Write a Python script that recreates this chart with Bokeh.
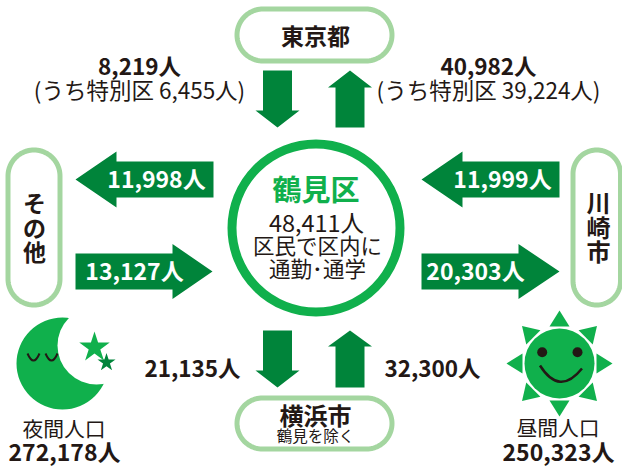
import numpy as np
from bokeh.plotting import figure
from bokeh.models import Range1d
from bokeh.core.properties import value
from bokeh.embed import file_html
from bokeh.resources import INLINE

FONT = "Noto Sans CJK JP"
INK = "#231815"
GREEN = "#10b04c"
DARK = "#00843a"
PALE = "#a4d6a0"

# --- chart content ---
centre_title = "鶴見区"
centre_lines = ["48,411人", "区民で区内に", "通勤･通学"]
tokyo_out, tokyo_in = "8,219人", "40,982人"
tokyo_out_sub, tokyo_in_sub = "(うち特別区 6,455人)", "(うち特別区 39,224人)"
other_out, other_in = "11,998人", "13,127人"
kawasaki_out, kawasaki_in = "11,999人", "20,303人"
yokohama_out, yokohama_in = "21,135人", "32,300人"
night_label, night_value = "夜間人口", "272,178人"
day_label, day_value = "昼間人口", "250,323人"

p = figure(width=622, height=466, output_backend="svg", toolbar_location=None,
           x_range=Range1d(0, 622), y_range=Range1d(466, 0),
           x_axis_type=None, y_axis_type=None, min_border=0,
           outline_line_color=None, background_fill_color="white",
           border_fill_color="white", styles={"position": "absolute", "left": "0", "top": "0"})
p.grid.visible = False


def txt(x, y, s, size, bold=False, color=INK):
    p.text([x], [y - 1], text=[s], text_font=value(FONT), text_font_size=f"{size}px",
           text_font_style="bold" if bold else "normal", text_color=color,
           text_align="center", text_baseline="middle")


def pill(x0, y0, x1, y1):
    r = min(x1 - x0, y1 - y0) / 2
    t = np.linspace(0, np.pi / 2, 24)
    xs = np.r_[x1 - r + r * np.sin(t), x1 - r + r * np.cos(t), x0 + r - r * np.sin(t), x0 + r - r * np.cos(t)]
    ys = np.r_[y0 + r - r * np.cos(t), y1 - r + r * np.sin(t), y1 - r + r * np.cos(t), y0 + r - r * np.sin(t)]
    p.patch(xs, ys, fill_color="white", line_color=PALE, line_width=5)


def arrow_h(tail, base, tip, cy, shaft, head):
    p.patch([tail, base, base, tip, base, base, tail],
            [cy - shaft, cy - shaft, cy - head, cy, cy + head, cy + shaft, cy + shaft],
            fill_color=DARK, line_color=None)


def arrow_v(tail, base, tip, cx, shaft, head):
    p.patch([cx - shaft, cx - shaft, cx - head, cx, cx + head, cx + shaft, cx + shaft],
            [tail, base, base, tip, base, base, tail],
            fill_color=DARK, line_color=None)


# pills
pill(236.5, 8.5, 391.5, 60.5)
pill(236.5, 397.5, 391.5, 448.5)
pill(7.5, 149.5, 59.5, 304.5)
pill(572.5, 149.5, 620, 304.5)

txt(315, 35, "東京都", 23, True)
txt(315, 415, "横浜市", 24, True)
txt(315, 435, "鶴見を除く", 15.5)
for y, c in zip([202, 227, 251], "その他"):
    txt(34, y, c, 23, True)
for y, c in zip([202, 227, 251], "川崎市"):
    txt(598, y, c, 24, True)

# arrows
arrow_v(70, 110, 127, 277, 14.5, 22)
arrow_v(127, 87, 70, 349.5, 14.5, 22)
arrow_v(330, 370, 387, 277, 14.5, 22)
arrow_v(387, 346, 330, 349.5, 14.5, 22)
arrow_h(213, 116, 75, 179, 18, 28)
arrow_h(75, 172, 212, 271, 18, 27.5)
arrow_h(559, 462, 421, 179, 18, 28)
arrow_h(421, 518, 559, 271, 18, 27.5)

txt(156, 178, other_out, 23, True, "white")
txt(134, 270, other_in, 23, True, "white")
txt(502, 178, kawasaki_out, 23, True, "white")
txt(475, 270, kawasaki_in, 23, True, "white")

txt(139, 65, tokyo_out, 22.5, True)
txt(139, 89, tokyo_out_sub, 22.5)
txt(488, 65, tokyo_in, 22.5, True)
txt(488, 89, tokyo_in_sub, 22.5)
txt(192, 367, yokohama_out, 22.5, True)
txt(432, 367, yokohama_in, 22.5, True)

# centre
p.circle([315.5], [227.5], radius=84, fill_color="white", line_color=GREEN, line_width=9)
txt(315.5, 188, centre_title, 29, True, GREEN)
txt(316, 222, centre_lines[0], 23.5)
txt(317, 245, centre_lines[1], 21.5)
txt(317, 268, centre_lines[2], 21.5)

# moon
p.circle([62], [363], radius=46, fill_color=GREEN, line_color=None)
p.circle([96], [345], radius=39, fill_color="white", line_color=None)
p.scatter([94], [347], marker="star", size=32, fill_color=GREEN, line_color=None)
p.scatter([106], [362], marker="star", size=19, fill_color=DARK, line_color=None)
p.quadratic(x0=[27, 45], y0=[353, 353], x1=[39, 57], y1=[353, 353], cx=[33, 51], cy=[367, 367],
            line_color=INK, line_width=2)
txt(63.5, 428, night_label, 20.8)
txt(64, 451, night_value, 23, True)

# sun
p.circle([559], [363], radius=35, fill_color=GREEN, line_color=None)
for a in np.arange(8) * np.pi / 4:
    ux, uy = np.cos(a), np.sin(a)
    bx, by = 559 + 37 * ux, 363 + 37 * uy
    p.patch([bx - 10 * uy, 559 + 53 * ux, bx + 10 * uy],
            [by + 10 * ux, 363 + 53 * uy, by - 10 * ux],
            fill_color=GREEN, line_color=None)
p.circle([541.7, 577], [351.7, 351.7], radius=5, fill_color=INK, line_color=None)
p.quadratic(x0=[539.5], y0=[365], x1=[581.5], y1=[368], cx=[559], cy=[396], line_color=INK, line_width=2.5)
txt(557.5, 427, day_label, 20.8)
txt(558, 451, day_value, 23, True)

open("out.html", "w").write(file_html(p, INLINE))
